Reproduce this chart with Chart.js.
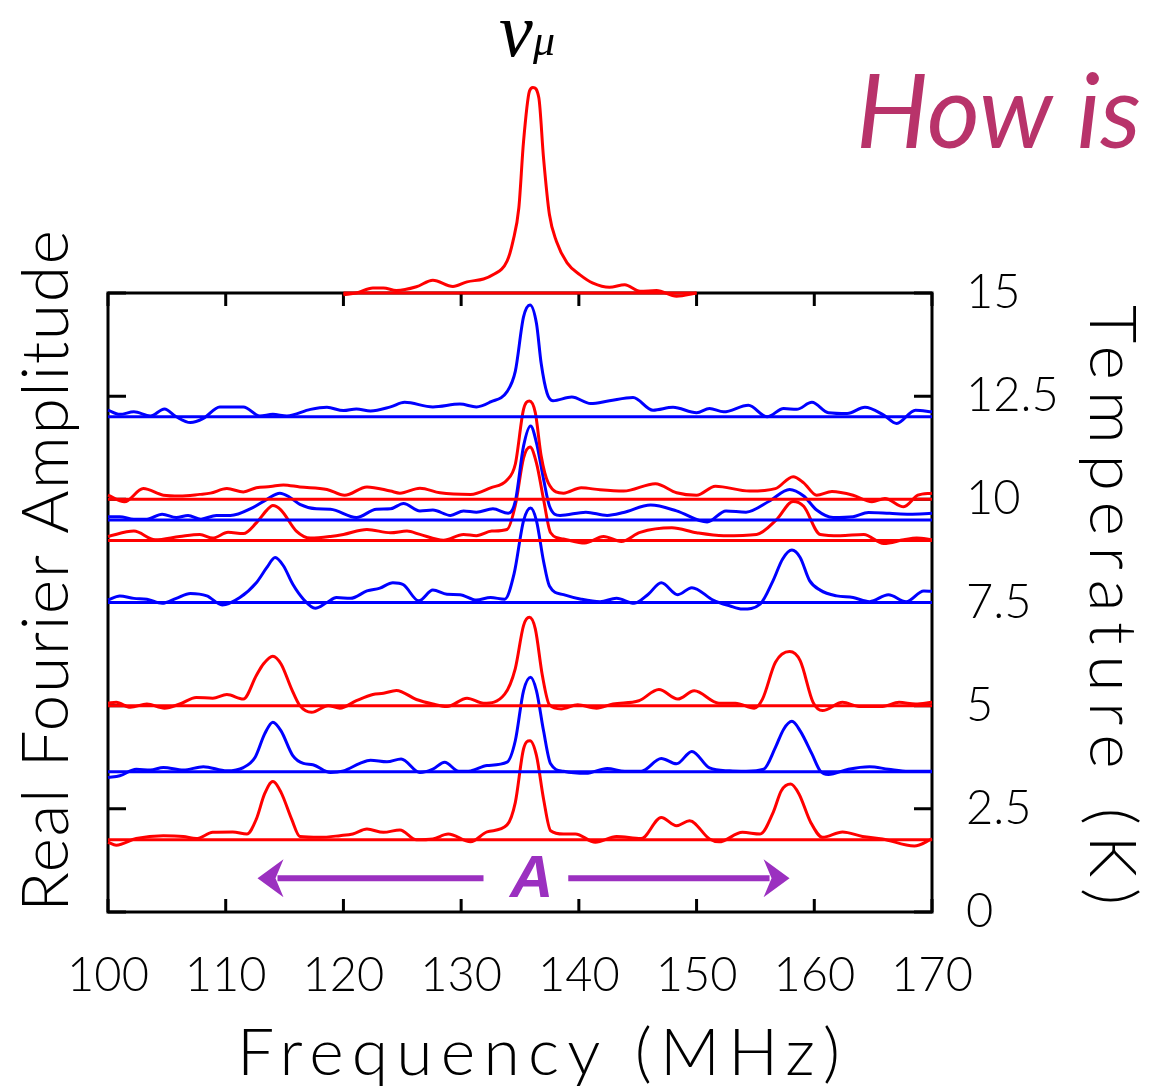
<!DOCTYPE html>
<html>
<head>
<meta charset="utf-8">
<script src="https://cdn.jsdelivr.net/npm/chart.js@4.4.1/dist/chart.umd.min.js"></script>
<style>
  html, body { margin: 0; padding: 0; background: #fff; }
</style>
</head>
<body>
<canvas id="chartSpectra" width="1157" height="1091"></canvas>
<script>
// baseline temperature (K) of each spectrum, top to bottom
const temps = [15, 12, 10, 9.5, 9, 7.5, 5, 3.4, 1.75];
const colors = ["#ff0000", "#0000ff", "#ff0000", "#0000ff", "#ff0000", "#0000ff", "#ff0000", "#0000ff", "#ff0000"];

// frequency (MHz) and amplitude (in K units above the baseline) of each spectrum
const freq15 = [120.0, 121.1, 122.5, 123.4, 124.5, 126.2, 127.6, 129.3, 130.5, 131.9, 132.7, 133.9, 134.4, 134.9, 135.3, 135.8, 136.1, 136.6, 137.0, 137.5, 138.1, 139.0, 140.1, 141.2, 142.6, 143.9, 145.2, 146.6, 148.3, 150.0];
const amp15 = [-0.04, 0, 0.12, 0.12, 0.06, 0.15, 0.31, 0.16, 0.27, 0.34, 0.44, 0.77, 1.25, 2.06, 3.67, 4.89, 4.98, 4.73, 3.27, 1.9, 1.25, 0.73, 0.44, 0.24, 0.14, 0.2, 0.04, 0.06, -0.08, 0];

const freq12 = [100.0, 101.0, 102.2, 103.6, 104.8, 105.8, 107.0, 108.1, 109.5, 111.5, 112.9, 114.0, 115.2, 117.2, 118.6, 120.0, 121.1, 122.3, 124.0, 125.2, 127.6, 129.9, 131.3, 132.5, 133.9, 134.6, 135.3, 135.85, 136.4, 136.8, 137.3, 137.8, 139.4, 141.0, 142.6, 144.6, 146.3, 148.0, 150.0, 151.1, 152.3, 154.4, 156.0, 157.4, 158.5, 159.8, 161.2, 162.8, 164.3, 165.9, 167.0, 168.6, 170.0];
const amp12 = [0.16, 0.06, 0.12, 0.02, 0.19, 0, -0.14, -0.04, 0.24, 0.24, 0.02, 0.06, 0.02, 0.18, 0.23, 0.15, 0.19, 0.14, 0.24, 0.35, 0.24, 0.31, 0.24, 0.36, 0.61, 1.1, 2.42, 2.71, 2.26, 1.29, 0.57, 0.39, 0.48, 0.32, 0.39, 0.47, 0.16, 0.23, 0.1, 0.2, 0.12, 0.28, 0, 0.2, 0.18, 0.35, 0.1, 0.08, 0.23, 0.04, -0.16, 0.16, 0.12];

const freq10 = [100.0, 101.4, 103.0, 104.7, 106.1, 107.8, 108.7, 110.1, 111.5, 112.6, 113.8, 114.9, 116.3, 118.6, 120.1, 122.0, 124.0, 124.8, 126.5, 128.2, 130.8, 132.5, 133.9, 134.6, 135.3, 135.8, 136.3, 136.8, 137.4, 138.7, 140.2, 141.8, 143.8, 146.5, 148.3, 150.0, 151.6, 154.5, 156.7, 158.2, 159.1, 160.2, 161.5, 163.3, 164.9, 166.0, 167.6, 168.8, 170.0];
const amp10 = [0.1, -0.06, 0.26, 0.1, 0.08, 0.12, 0.15, 0.26, 0.18, 0.28, 0.31, 0.35, 0.3, 0.24, 0.1, 0.3, 0.2, 0.15, 0.27, 0.16, 0.12, 0.28, 0.47, 0.85, 2.18, 2.38, 2.1, 1.05, 0.4, 0.15, 0.28, 0.23, 0.2, 0.38, 0.16, 0.1, 0.32, 0.2, 0.26, 0.55, 0.4, 0.1, 0.19, 0.1, -0.06, 0.02, -0.18, 0.1, 0.15];

const freq95 = [100.0, 101.0, 102.2, 103.3, 104.6, 105.8, 106.8, 107.9, 109.2, 110.4, 112.3, 113.5, 114.6, 115.5, 116.3, 117.7, 118.9, 121.1, 122.8, 124.0, 125.1, 126.5, 127.6, 129.1, 130.2, 131.3, 132.7, 134.0, 134.6, 135.3, 135.9, 136.4, 137.0, 137.5, 138.4, 140.6, 142.4, 143.8, 146.1, 148.3, 150.9, 152.5, 154.2, 156.2, 157.9, 159.1, 160.2, 161.6, 163.3, 164.6, 166.4, 168.1, 170.0];
const amp95 = [0.08, 0.08, 0.02, 0.02, 0.14, 0.06, 0.11, 0.02, 0.11, 0.11, 0.3, 0.5, 0.65, 0.54, 0.38, 0.27, 0.26, 0.06, 0.26, 0.27, 0.4, 0.22, 0.24, 0.11, 0.22, 0.19, 0.27, 0.16, 0.45, 1.79, 2.28, 1.87, 0.99, 0.34, 0.11, 0.19, 0.11, 0.18, 0.36, 0.22, -0.05, 0.22, 0.19, 0.46, 0.74, 0.58, 0.24, 0.06, 0.08, 0.18, 0.16, 0.14, 0.16];

const freq9 = [100.0, 102.2, 104.0, 106.1, 107.8, 108.9, 110.2, 111.5, 112.6, 113.5, 114.0, 114.7, 116.0, 117.2, 118.9, 120.0, 122.0, 124.0, 125.4, 126.5, 128.5, 130.2, 131.3, 132.6, 133.9, 134.6, 135.3, 135.85, 136.4, 137.0, 137.6, 138.7, 140.5, 142.1, 143.6, 145.2, 147.9, 150.0, 152.3, 155.1, 156.8, 158.2, 159.1, 160.5, 162.2, 164.2, 165.9, 167.6, 168.7, 170.0];
const amp9 = [0.1, 0.23, 0.02, 0.1, 0.15, 0.06, 0.2, 0.17, 0.43, 0.74, 0.85, 0.74, 0.23, 0.06, 0.1, 0.15, 0.27, 0.19, 0.23, 0.15, 0.01, 0.15, 0.12, 0.23, 0.27, 0.85, 2.0, 2.27, 1.88, 1.0, 0.19, 0.04, -0.06, 0.1, -0.02, 0.2, 0.31, 0.19, 0.12, 0.15, 0.51, 0.95, 0.83, 0.15, 0.12, 0.15, -0.07, 0.02, 0.06, 0.02];

const freq75 = [100.0, 101.0, 102.2, 103.3, 104.6, 105.8, 107.0, 108.4, 109.7, 111.2, 112.6, 113.5, 114.2, 114.9, 115.7, 116.6, 117.6, 118.6, 119.4, 120.6, 122.0, 123.1, 124.2, 125.1, 126.4, 127.6, 128.8, 129.9, 131.3, 132.5, 133.7, 134.5, 135.3, 135.9, 136.4, 137.0, 137.5, 138.7, 140.2, 141.8, 143.2, 144.7, 145.9, 147.0, 148.4, 149.6, 151.4, 152.8, 153.9, 155.4, 156.5, 157.3, 158.1, 158.8, 159.6, 160.5, 161.9, 163.3, 164.7, 166.3, 167.8, 169.3, 170.0];
const amp75 = [0.06, 0.16, 0.1, 0.08, -0.02, 0.1, 0.22, 0.16, -0.06, 0.12, 0.48, 0.85, 1.09, 0.89, 0.44, 0.08, -0.14, 0, 0.12, 0.1, 0.28, 0.35, 0.48, 0.43, 0.04, 0.3, 0.2, 0.19, 0.06, 0.12, 0.08, 0.7, 1.98, 2.29, 1.98, 1.0, 0.4, 0.19, 0.08, 0.02, 0.1, -0.02, 0.2, 0.48, 0.19, 0.36, 0.06, -0.08, -0.16, -0.04, 0.53, 1.05, 1.27, 1.09, 0.53, 0.3, 0.16, 0.12, 0.02, 0.19, 0.02, 0.28, 0.27];

const freq5 = [100.0, 100.7, 101.9, 103.3, 104.8, 106.1, 107.5, 108.9, 110.1, 111.5, 112.6, 113.2, 114.0, 114.7, 115.6, 116.3, 117.3, 118.7, 119.7, 121.1, 122.5, 123.4, 124.5, 126.2, 127.6, 128.8, 130.5, 131.9, 133.7, 134.6, 135.3, 135.8, 136.3, 136.9, 137.5, 138.5, 139.9, 141.5, 142.9, 145.1, 146.8, 148.4, 149.8, 151.9, 153.3, 154.9, 155.6, 156.7, 157.9, 158.8, 159.9, 160.7, 162.4, 163.8, 165.8, 167.2, 168.6, 170.0];
const amp5 = [0.06, 0.08, -0.04, 0.04, -0.06, 0.04, 0.2, 0.18, 0.27, 0.16, 0.73, 1.01, 1.2, 1.01, 0.4, 0, -0.16, 0, -0.06, 0.12, 0.27, 0.3, 0.37, 0.15, 0.04, -0.02, 0.18, 0.06, 0.28, 0.9, 1.94, 2.14, 1.86, 0.73, 0.02, -0.08, 0.02, -0.06, 0.04, 0.12, 0.39, 0.16, 0.36, 0.06, 0.06, -0.06, 0.16, 1.05, 1.31, 1.09, 0.08, -0.12, 0.08, -0.02, -0.02, 0.08, 0.04, 0.08];

const freq34 = [100.0, 101.0, 102.4, 103.6, 104.7, 106.4, 108.1, 110.1, 111.5, 112.5, 113.3, 114.0, 114.7, 115.7, 116.6, 117.4, 118.9, 120.0, 121.4, 122.3, 123.7, 124.9, 126.5, 127.6, 128.6, 129.8, 130.8, 132.2, 133.9, 134.6, 135.3, 135.9, 136.4, 137.0, 137.6, 138.7, 140.6, 142.4, 143.9, 145.3, 147.0, 148.3, 149.6, 151.1, 152.8, 154.2, 155.7, 156.7, 157.4, 158.1, 158.8, 159.8, 160.5, 161.2, 162.9, 164.7, 166.3, 168.0, 170.0];
const amp34 = [-0.14, -0.1, 0.06, 0.04, 0.1, 0.04, 0.12, 0.02, 0.1, 0.35, 0.91, 1.2, 0.99, 0.39, 0.2, 0.17, -0.02, 0.02, 0.2, 0.28, 0.24, 0.31, -0.02, 0.06, 0.23, 0.01, 0.02, 0.15, 0.23, 0.75, 1.96, 2.29, 1.96, 0.99, 0.19, 0.01, -0.04, 0.08, 0.01, 0.01, 0.32, 0.19, 0.49, 0.09, 0.02, 0.01, 0.06, 0.59, 1.03, 1.22, 0.99, 0.43, 0.02, -0.07, 0.06, 0.12, 0.06, 0.01, 0.01];

const freq175 = [100.0, 100.7, 102.4, 104.7, 106.4, 107.5, 108.9, 110.6, 111.8, 112.6, 113.3, 114.0, 114.7, 115.6, 116.3, 118.0, 119.7, 120.8, 122.0, 123.4, 124.8, 126.2, 127.6, 128.9, 130.8, 132.2, 133.9, 134.6, 135.3, 135.85, 136.4, 137.0, 137.6, 138.7, 139.7, 141.4, 143.2, 145.3, 147.0, 148.3, 149.4, 151.1, 151.9, 153.9, 155.4, 156.5, 157.2, 158.0, 158.7, 159.7, 160.7, 162.4, 164.1, 165.8, 168.5, 170.0];
const amp175 = [-0.06, -0.13, 0.03, 0.1, 0.08, 0.03, 0.18, 0.19, 0.14, 0.5, 1.11, 1.41, 1.15, 0.5, 0.08, 0.06, 0.1, 0.14, 0.26, 0.18, 0.24, 0, 0.02, 0.14, -0.05, 0.19, 0.36, 0.9, 2.2, 2.4, 2.04, 0.99, 0.22, 0.14, 0.14, -0.06, 0.08, 0.03, 0.54, 0.34, 0.46, 0.02, -0.05, 0.18, 0.14, 0.66, 1.19, 1.35, 1.11, 0.42, 0.06, 0.19, 0.08, 0.02, -0.15, 0.02];

// axis ticks
const xTicks = [100, 110, 120, 130, 140, 150, 160, 170];
const yTicks = [0, 2.5, 5, 7.5, 10, 12.5, 15];

// the "A" splitting arrow: left head, left shaft end, right shaft start, right head, letter, level (K)
const arrowFreqs = [112.7, 131.9, 139.1, 157.9];
const arrowLetterFreq = 136.0;
const arrowLevel = 0.82;

const spectra = [
    [freq15, amp15], [freq12, amp12], [freq10, amp10], [freq95, amp95], [freq9, amp9],
    [freq75, amp75], [freq5, amp5], [freq34, amp34], [freq175, amp175],
];

const datasets = [];
spectra.forEach(([f, a], i) => {
    const T = temps[i];
    datasets.push({
        data: [{ x: f[0], y: T }, { x: f[f.length - 1], y: T }],
        borderColor: colors[i],
        borderWidth: 3,
        pointRadius: 0,
        clip: false,
    });
    datasets.push({
        data: f.map((x, k) => ({ x: x, y: T + a[k] })),
        borderColor: colors[i],
        borderWidth: 3,
        pointRadius: 0,
        cubicInterpolationMode: "monotone",
        clip: false,
    });
});

const font = "Lato";

function spacedText(ctx, text, x, y, width) {
    ctx.letterSpacing = "0px";
    const w = ctx.measureText(text).width;
    ctx.letterSpacing = ((width - w) / (text.length - 1)) + "px";
    ctx.fillText(text, x, y);
    ctx.letterSpacing = "0px";
}

const framePlugin = {
    id: "frame",
    beforeDatasetsDraw(chart) {
        const { ctx, scales: { x, y } } = chart;
        const left = x.getPixelForValue(xTicks[0]);
        const right = x.getPixelForValue(xTicks[xTicks.length - 1]);
        const top = y.getPixelForValue(yTicks[yTicks.length - 1]);
        const bottom = y.getPixelForValue(yTicks[0]);
        ctx.save();
        ctx.strokeStyle = "#000";
        ctx.lineWidth = 3;
        ctx.strokeRect(left, top, right - left, bottom - top);
        ctx.beginPath();
        xTicks.forEach(v => {
            const px = x.getPixelForValue(v);
            ctx.moveTo(px, bottom); ctx.lineTo(px, bottom - 13);
            ctx.moveTo(px, top); ctx.lineTo(px, top + 13);
        });
        yTicks.forEach(v => {
            const py = y.getPixelForValue(v);
            ctx.moveTo(left, py); ctx.lineTo(left + 18, py);
            ctx.moveTo(right, py); ctx.lineTo(right - 18, py);
        });
        ctx.stroke();
        ctx.restore();
    },
    afterDraw(chart) {
        const { ctx, scales: { x, y } } = chart;
        ctx.save();
        ctx.fillStyle = "#000";
        ctx.textAlign = "left";
        ctx.textBaseline = "alphabetic";

        // axis titles
        ctx.font = "300 66px " + font;
        spacedText(ctx, "Frequency (MHz)", 237, 1075, 603);

        ctx.save();
        ctx.translate(68, 912);
        ctx.rotate(-Math.PI / 2);
        spacedText(ctx, "Real Fourier Amplitude", 0, 0, 682);
        ctx.restore();

        ctx.save();
        ctx.translate(1090, 305);
        ctx.rotate(Math.PI / 2);
        spacedText(ctx, "Temperature (K)", 0, 0, 600);
        ctx.restore();

        // nu_mu label above the peak
        ctx.font = "italic 76px 'Liberation Serif'";
        ctx.fillText("\u03bd", 499, 56);
        ctx.font = "italic 44px 'Liberation Serif'";
        ctx.fillText("\u03bc", 533, 55);

        // heading fragment
        ctx.fillStyle = "#b8336a";
        ctx.font = "italic 400 102px " + font;
        ctx.fillText("How is", 856, 148);

        // splitting arrow
        const purple = "#9b30c0";
        const ay = y.getPixelForValue(arrowLevel);
        const [f0, f1, f2, f3] = arrowFreqs.map(v => x.getPixelForValue(v));
        ctx.strokeStyle = purple;
        ctx.fillStyle = purple;
        ctx.lineWidth = 6;
        ctx.beginPath();
        ctx.moveTo(f0 + 20, ay); ctx.lineTo(f1, ay);
        ctx.moveTo(f2, ay); ctx.lineTo(f3 - 20, ay);
        ctx.stroke();
        const head = (tip, dir) => {
            ctx.beginPath();
            ctx.moveTo(tip, ay);
            ctx.lineTo(tip - dir * 26, ay - 19);
            ctx.lineTo(tip - dir * 18, ay);
            ctx.lineTo(tip - dir * 26, ay + 19);
            ctx.closePath();
            ctx.fill();
        };
        head(f0, -1);
        head(f3, 1);
        ctx.font = "italic bold 60px 'Liberation Sans Narrow', 'Liberation Sans'";
        ctx.textAlign = "center";
        ctx.textBaseline = "middle";
        ctx.fillText("A", x.getPixelForValue(arrowLetterFreq), ay + 2);
        ctx.restore();
    },
};

new Chart(document.getElementById("chartSpectra"), {
    type: "line",
    data: { datasets: datasets },
    options: {
        responsive: false,
        animation: false,
        layout: { padding: { top: 293, left: 108, right: 0, bottom: 0 } },
        plugins: { legend: { display: false }, tooltip: { enabled: false } },
        scales: {
            x: {
                type: "linear",
                min: 100,
                max: 170,
                afterFit(scale) { scale.height = 179; },
                afterBuildTicks(scale) { scale.ticks = xTicks.map(v => ({ value: v })); },
                grid: { display: false, drawTicks: false },
                border: { display: false },
                ticks: {
                    autoSkip: false,
                    maxRotation: 0,
                    padding: 36,
                    color: "#000",
                    font: { family: font, size: 47, weight: 300 },
                },
            },
            y: {
                type: "linear",
                position: "right",
                min: 0,
                max: 15,
                afterFit(scale) { scale.width = 225; },
                afterBuildTicks(scale) { scale.ticks = yTicks.map(v => ({ value: v })); },
                grid: { display: false, drawTicks: false },
                border: { display: false },
                ticks: {
                    autoSkip: false,
                    padding: 34,
                    color: "#000",
                    font: { family: font, size: 47, weight: 300 },
                },
            },
        },
    },
    plugins: [framePlugin],
});
</script>
</body>
</html>
